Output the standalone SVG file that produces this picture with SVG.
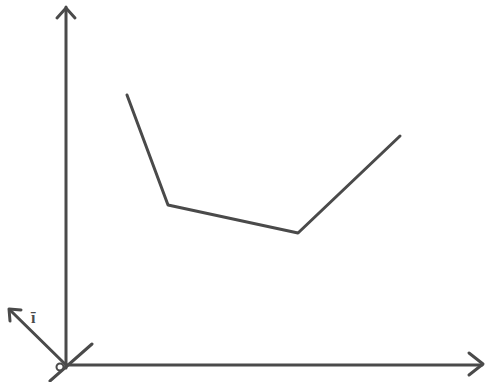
<svg xmlns="http://www.w3.org/2000/svg" width="486" height="382" viewBox="0 0 486 382">
<style>
.ln{stroke:#4a4a4a;stroke-width:3;fill:none;stroke-linecap:round;stroke-linejoin:round}
.lbl{font-family:"Liberation Serif",serif;font-size:16px;font-weight:bold;fill:#4a4a4a}
</style>
<rect width="486" height="382" fill="#fff"/>
<g id="axes">
<line class="ln" x1="66" y1="368" x2="66" y2="7"/>
<polyline class="ln" points="57,18 66,8 75,18"/>
<line class="ln" x1="66" y1="365" x2="482" y2="365"/>
<polyline class="ln" points="469,353 483,364 469,375"/>
</g>
<g id="origin">
<circle cx="60" cy="367" r="3.5" fill="#fff" stroke="#4a4a4a" stroke-width="2"/>
<line class="ln" x1="50" y1="381" x2="92" y2="344"/>
<line class="ln" x1="66" y1="365" x2="11" y2="311"/>
<polyline class="ln" points="10,321 9,309 21,310"/>
<text class="lbl" x="31" y="323">ī</text>
</g>
<g id="curve">
<polyline class="ln" points="127,95 168,205 298,233 400,136"/>
</g>
</svg>
